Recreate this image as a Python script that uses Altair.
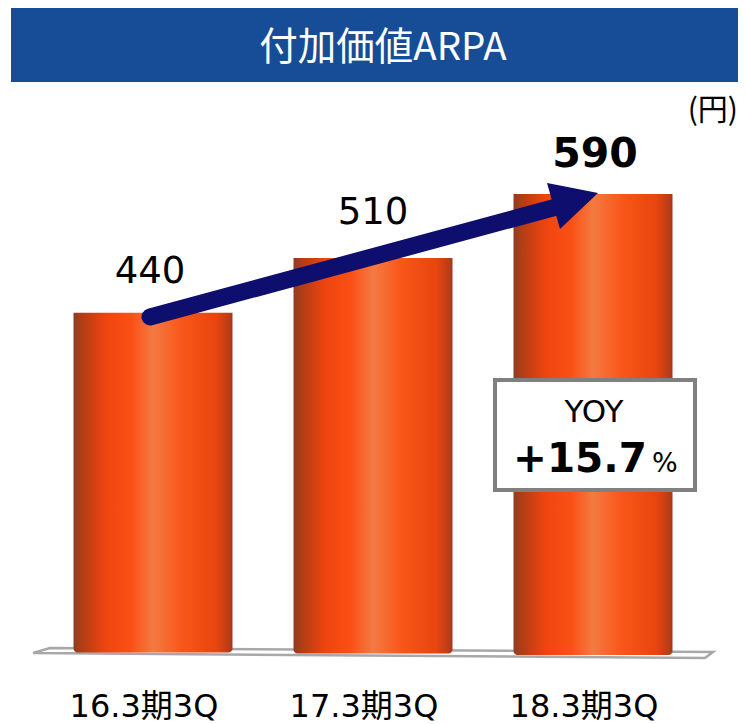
import altair as alt
import pandas as pd

W, H = 730, 716
OFF = 8

title = "付加価値ARPA"
unit = "(円)"
categories = ["16.3期3Q", "17.3期3Q", "18.3期3Q"]
values = [440, 510, 590]
drawn_top = [440, 511, 594]
drawn_base = [0, -1.3, -3.2]
box_head = "YOY"
box_value = "+15.7"
box_pct = "%"

FONT = "DejaVu Sans, Noto Sans CJK JP"
bars_df = pd.DataFrame({"cat": categories, "top": drawn_top, "base": drawn_base})

grad = alt.Gradient(
    gradient="linear", x1=0, x2=1, y1=0, y2=0,
    stops=[
        alt.GradientStop(offset=0, color="#8f3d22"),
        alt.GradientStop(offset=0.06, color="#b53d14"),
        alt.GradientStop(offset=0.2, color="#ee4510"),
        alt.GradientStop(offset=0.36, color="#fb4f14"),
        alt.GradientStop(offset=0.5, color="#f37a42"),
        alt.GradientStop(offset=0.68, color="#f95619"),
        alt.GradientStop(offset=0.9, color="#e8450f"),
        alt.GradientStop(offset=0.98, color="#b83c16"),
        alt.GradientStop(offset=1, color="#9a3c20"),
    ],
)

def px(x):
    return x - OFF

def text_layer(rows, font=FONT, **mark):
    df = pd.DataFrame([{"t": r[0], "x": px(r[1]), "y": px(r[2])} for r in rows])
    return alt.Chart(df).mark_text(font=font, **mark).encode(
        x=alt.X("x:Q", scale=None, axis=None),
        y=alt.Y("y:Q", scale=None, axis=None),
        text="t:N",
    )

def rect_layer(x0, x1, y0, y1, **mark):
    df = pd.DataFrame({"a": [px(x0)], "b": [px(x1)], "c": [px(y0)], "d": [px(y1)]})
    return alt.Chart(df).mark_rect(**mark).encode(
        x=alt.X("a:Q", scale=None, axis=None), x2="b:Q",
        y=alt.Y("c:Q", scale=None, axis=None), y2="d:Q",
    )

header = rect_layer(11, 746, 6, 82, color="#174c97")
header_text = text_layer(
    [(title, 383, 60)], font="Noto Sans CJK JP, DejaVu Sans",
    fontSize=38.5, color="white", align="center", baseline="alphabetic",
)

floor_df = pd.DataFrame({
    "i": [0, 1, 2, 3, 4],
    "x": [px(33), px(50), px(713), px(705), px(33)],
    "y": [px(653), px(648), px(652), px(658), px(653)],
})
floor = alt.Chart(floor_df).mark_line(color="#a8a8a8", strokeWidth=2.5).encode(
    x=alt.X("x:Q", scale=None, axis=None),
    y=alt.Y("y:Q", scale=None, axis=None),
    order="i:O",
)

bars = alt.Chart(bars_df).mark_bar(
    fill=grad, cornerRadiusBottomLeft=4, cornerRadiusBottomRight=4
).encode(
    x=alt.X(
        "cat:N", sort=categories, title=None,
        scale=alt.Scale(paddingInner=0.2773, paddingOuter=0.2977, align=0.5),
        axis=alt.Axis(
            orient="bottom", domain=False, ticks=False, labelAngle=0, labelFont=FONT,
            labelFontSize=32, labelColor="#000000", labelPadding=0, labelBaseline="middle",
            offset=-18, labelOffset=-9,
        ),
    ),
    y=alt.Y("top:Q", scale=alt.Scale(domain=[-92.6, 834.8], nice=False, zero=False), axis=None),
    y2="base:Q",
)

shaft_df = pd.DataFrame({"x": [px(150), px(560)], "y": [px(317), px(206)]})
shaft = alt.Chart(shaft_df).mark_line(color="#0e0e6e", strokeWidth=17, strokeCap="round").encode(
    x=alt.X("x:Q", scale=None, axis=None),
    y=alt.Y("y:Q", scale=None, axis=None),
)
head_df = pd.DataFrame({
    "x": [px(547), px(560), px(598)],
    "y": [px(183), px(185.5), px(193)],
    "y2": [px(183), px(229), px(193)],
})
head = alt.Chart(head_df).mark_area(color="#0e0e6e").encode(
    x=alt.X("x:Q", scale=None, axis=None),
    y=alt.Y("y:Q", scale=None, axis=None),
    y2="y2:Q",
)

labels = text_layer(
    [(str(values[0]), 150, 283), (str(values[1]), 373, 224)],
    fontSize=37, color="#000000", align="center", baseline="alphabetic",
)
label_bold = text_layer(
    [(str(values[2]), 595, 167)],
    fontSize=41, fontWeight="bold", color="#000000", align="center", baseline="alphabetic",
)
unit_t = text_layer(
    [(unit, 738, 120)], font="Noto Sans CJK JP",
    fontSize=30, color="#000000", align="right", baseline="alphabetic",
)

box = rect_layer(495, 695, 380, 490, fill="white", stroke="#808080", strokeWidth=4)
yoy = text_layer([(box_head, 594, 422)], fontSize=31, color="#000000", align="center", baseline="alphabetic")
val = text_layer([(box_value, 513, 472)], fontSize=40.5, fontWeight="bold", color="#000000", align="left", baseline="alphabetic")
pct = text_layer([(box_pct, 652, 472)], fontSize=27, color="#000000", align="left", baseline="alphabetic")

chart = alt.layer(
    header, header_text, floor, bars, shaft, head, labels, label_bold, unit_t, box, yoy, val, pct
).resolve_scale(x="independent", y="independent").properties(
    width=W, height=H, padding=0, autosize=alt.AutoSizeParams(type="none"), background="white",
).configure_view(stroke=None)

chart.save("out.html", embed_options={"renderer": "svg", "actions": False})
